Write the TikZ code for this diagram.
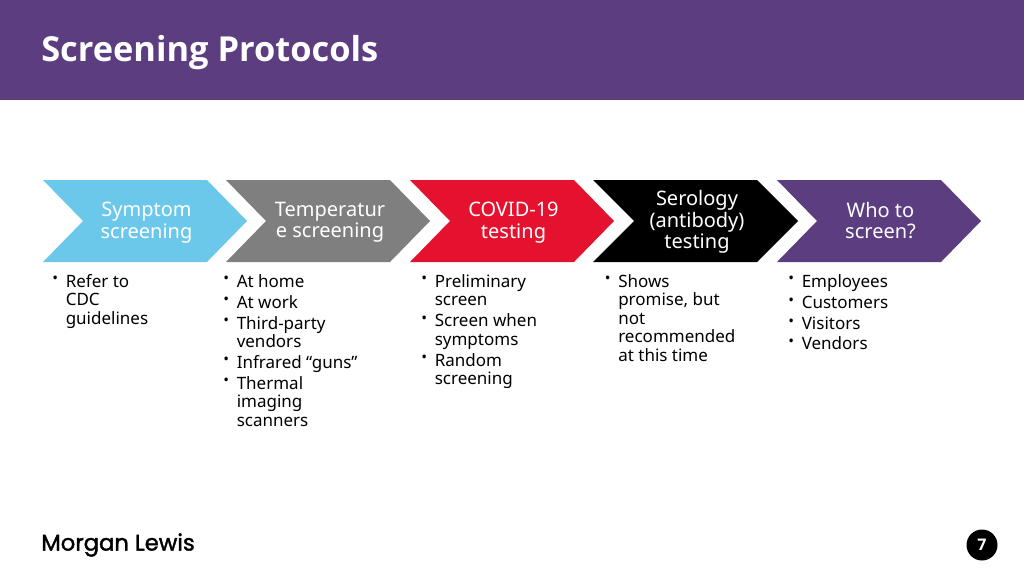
\documentclass[tikz,border=0pt]{standalone}
\usepackage{fontspec}
\setmainfont{Noto Sans}
\newfontfamily\headfont{Open Sans}
\newfontfamily\logofont[FakeBold=1.6]{Poppins}
\usetikzlibrary{calc, positioning}
\definecolor{bandpurple}{HTML}{5C3D80}
\definecolor{symptomblue}{HTML}{6CC8EB}
\definecolor{tempgray}{HTML}{7F7F7F}
\definecolor{covidred}{HTML}{E5122F}
\tikzset{
  steptext/.style={text=white, align=center, inner sep=0pt, font=\fontsize{15}{16.1}\selectfont},
  listitem/.style={anchor=north west, align=left, inner sep=0pt, font=\fontsize{12.75}{13.9}\selectfont,
    label={[anchor=center, inner sep=0pt, xshift=-7.7pt, yshift=-4.4pt, font=\fontsize{11.5}{11.5}\selectfont]north west:•}},
}
\begin{document}
\begin{tikzpicture}[x=0.75pt, y=-0.75pt]
          \useasboundingbox (0, 0) rectangle (1024, 576);
          \fill[bandpurple] (0, 0) rectangle (1024, 99.5);
          \node[anchor=west, inner sep=0pt, text=white, font=\fontsize{25.8}{30}\headfont\bfseries] (title) at (41, 53) {Screening Protocols};

          \fill[symptomblue] (43, 180) -- (207, 180) -- (247, 221) -- (207, 262) -- (43, 262) -- (83, 221) -- cycle;
          \fill[tempgray] (226, 180) -- (390, 180) -- (430, 221) -- (390, 262) -- (226, 262) -- (266, 221) -- cycle;
          \fill[covidred] (410, 180) -- (574, 180) -- (614, 221) -- (574, 262) -- (410, 262) -- (450, 221) -- cycle;
          \fill[black] (593, 180) -- (757, 180) -- (798, 221) -- (757, 262) -- (593, 262) -- (634, 221) -- cycle;
          \fill[bandpurple] (777, 180) -- (941, 180) -- (981, 221) -- (941, 262) -- (777, 262) -- (817, 221) -- cycle;

          \node[steptext] (step1) at (146.5, 222.5) {Symptom\\screening};
          \node[steptext] (step2) at (330, 222.5) {Temperatur\\e screening};
          \node[steptext] (step3) at (513.5, 222.5) {COVID-19\\testing};
          \node[steptext] (step4) at (697, 222) {Serology\\(antibody)\\testing};
          \node[steptext] (step5) at (880.5, 220.5) {Who to\\screen?};

          \node[listitem] (item1a) at (65.5, 274) {Refer to\\CDC\\guidelines};

          \node[listitem] (item2a) at (236.5, 274) {At home};
          \node[listitem] (item2b) at (236.5, 295) {At work};
          \node[listitem] (item2c) at (236.5, 316) {Third-party\\vendors};
          \node[listitem] (item2d) at (236.5, 355) {Infrared “guns”};
          \node[listitem] (item2e) at (236.5, 376) {Thermal\\imaging\\scanners};

          \node[listitem] (item3a) at (434.5, 274) {Preliminary\\screen};
          \node[listitem] (item3b) at (434.5, 313.5) {Screen when\\symptoms};
          \node[listitem] (item3c) at (434.5, 353) {Random\\screening};

          \node[listitem] (item4a) at (618, 274) {Shows\\promise, but\\not\\recommended\\at this time};

          \node[listitem] (item5a) at (801.5, 274) {Employees};
          \node[listitem] (item5b) at (801.5, 295.5) {Customers};
          \node[listitem] (item5c) at (801.5, 316.5) {Visitors};
          \node[listitem] (item5d) at (801.5, 336.5) {Vendors};

          \node[anchor=west, inner sep=0pt, font=\fontsize{17}{20}\logofont] (logo) at (41, 545) {Morgan Lewis};
          \node[circle, fill=black, text=white, minimum size=23.25pt, inner sep=0pt, font=\fontsize{12}{14}\headfont\bfseries] (pagenum) at (982, 545) {7};
      \end{tikzpicture}
\end{document}
